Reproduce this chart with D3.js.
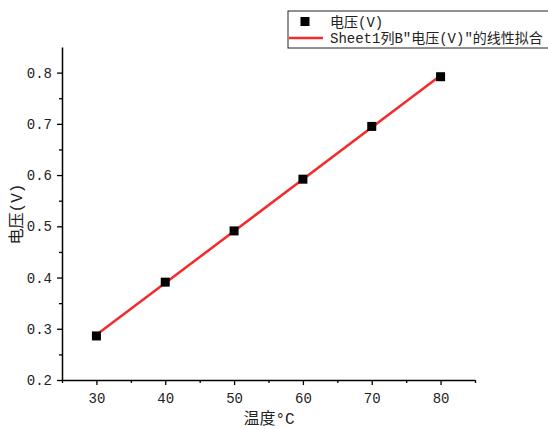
<!DOCTYPE html>
<html><head><meta charset="utf-8">
<script src="https://cdn.jsdelivr.net/npm/d3@7"></script>
<style>
body{margin:0;background:#fff;}
svg{display:block;}
text{font-family:"Liberation Mono","Noto Sans CJK SC",monospace;fill:#222;}
</style></head>
<body>
<svg id="c" width="548" height="429"></svg>
<script>
const temperature = [30, 40, 50, 60, 70, 80];
const voltage = [0.286, 0.391, 0.491, 0.592, 0.695, 0.792];
const xTicks = [30, 40, 50, 60, 70, 80];
const yTicks = [0.2, 0.3, 0.4, 0.5, 0.6, 0.7, 0.8];
const xMinor = [25, 35, 45, 55, 65, 75, 85];
const yMinor = [0.25, 0.35, 0.45, 0.55, 0.65, 0.75];
const xTitle = "温度°C";
const yTitle = "电压(V)";
const legendLabels = ["电压(V)", "Sheet1列B\u2033电压(V)\u2033的线性拟合"];

const svg = d3.select("#c");
const x = d3.scaleLinear().domain([25, 85]).range([62, 475]);
const y = d3.scaleLinear().domain([0.2, 0.85]).range([380, 47]);

// linear fit computed from data
const mx = d3.mean(temperature), my = d3.mean(voltage);
let sxy = 0, sxx = 0;
temperature.forEach((t, i) => { sxy += (t - mx) * (voltage[i] - my); sxx += (t - mx) ** 2; });
const slope = sxy / sxx, icpt = my - slope * mx;
const fitX = [d3.min(temperature), d3.max(temperature)];

// axes
const fmt = d => d3.format(".1f")(d);
const xAxis = svg.append("g").attr("transform", "translate(0,380)")
  .call(d3.axisBottom(x).tickValues(xTicks).tickSize(5).tickPadding(8).tickSizeOuter(0));
svg.append("g").attr("transform", "translate(0,380)")
  .call(d3.axisBottom(x).tickValues(xMinor).tickSize(3).tickFormat("").tickSizeOuter(0))
  .select(".domain").remove();
const yAxis = svg.append("g").attr("transform", "translate(62,0)")
  .call(d3.axisLeft(y).tickValues(yTicks).tickFormat(fmt).tickSize(5).tickPadding(5).tickSizeOuter(0));
svg.append("g").attr("transform", "translate(62,0)")
  .call(d3.axisLeft(y).tickValues(yMinor).tickSize(3).tickFormat("").tickSizeOuter(0))
  .select(".domain").remove();
svg.selectAll(".domain").attr("stroke", "#000").attr("stroke-width", 1.5);
svg.selectAll(".tick line").attr("stroke", "#000").attr("stroke-width", 1.3);
svg.selectAll(".tick text").style("font-size", "14px").attr("fill", "#222");

// fit line
svg.append("line")
  .attr("x1", x(fitX[0])).attr("y1", y(icpt + slope * fitX[0]))
  .attr("x2", x(fitX[1])).attr("y2", y(icpt + slope * fitX[1]))
  .attr("stroke", "#f52a2a").attr("stroke-width", 2.5);

// points
svg.selectAll("rect.pt").data(temperature).enter().append("rect")
  .attr("class", "pt")
  .attr("x", d => x(d) - 4.5).attr("y", (d, i) => y(voltage[i]) - 4.5)
  .attr("width", 9).attr("height", 9).attr("fill", "#000");

// titles
svg.append("text").attr("x", 269).attr("y", 424).attr("text-anchor", "middle")
  .style("font-size", "16px").text(xTitle);
svg.append("text").attr("transform", "translate(22,214) rotate(-90)").attr("text-anchor", "middle")
  .style("font-size", "16px").text(yTitle);

// legend
svg.append("rect").attr("x", 288).attr("y", 11).attr("width", 270).attr("height", 37)
  .attr("fill", "#fff").attr("stroke", "#222").attr("stroke-width", 1);
svg.append("rect").attr("x", 300.5).attr("y", 17).attr("width", 9).attr("height", 9).attr("fill", "#000");
svg.append("line").attr("x1", 289).attr("x2", 323).attr("y1", 38).attr("y2", 38)
  .attr("stroke", "#f52a2a").attr("stroke-width", 2.5);
svg.append("text").attr("x", 330).attr("y", 26.5).style("font-size", "14px").text(legendLabels[0]);
svg.append("text").attr("x", 330).attr("y", 43).style("font-size", "14px").text(legendLabels[1]);
</script>
</body></html>
